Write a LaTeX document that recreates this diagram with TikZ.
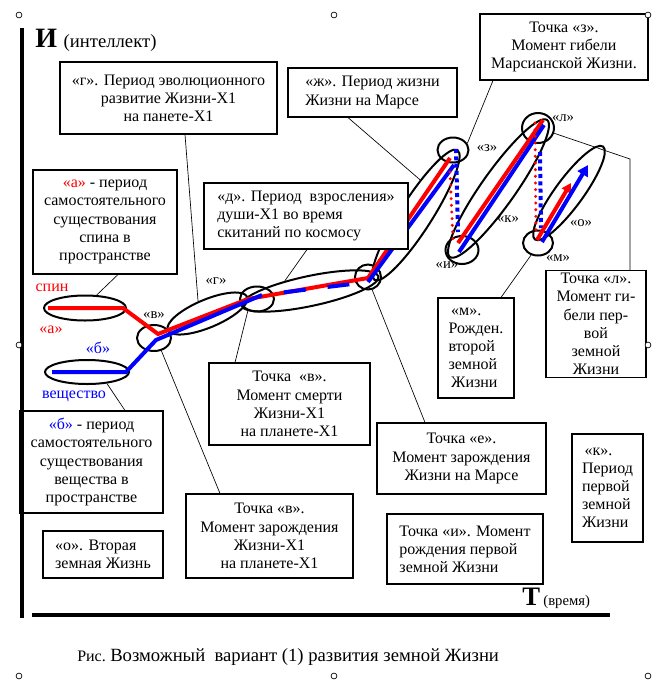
\documentclass[tikz,border=0pt]{standalone}
\usepackage{fontspec}
\setmainfont{Liberation Serif}
\usetikzlibrary{shapes.geometric,calc,arrows.meta}

\begin{document}
\begin{tikzpicture}[x=0.75pt,y=-0.75pt,
  box/.style 2 args={draw,fill=white,line width=0.8pt,inner sep=2pt,align=center,
    minimum width=#1*0.75pt,minimum height=#2*0.75pt,
    font=\fontsize{12}{13.6}\selectfont},
  oval/.style 2 args={draw,ellipse,line width=1.5pt,inner sep=0pt,
    minimum width=#1*1.5pt,minimum height=#2*1.5pt},
  lead/.style={line width=0.5pt},
  tag/.style={font=\fontsize{11}{11}\selectfont,inner sep=1pt},
  word/.style={font=\fontsize{12}{12}\selectfont,inner sep=1pt},
  trail/.style={line width=3pt},
  reddots/.style={red,line width=2.5pt,line cap=round,dash pattern=on 0pt off 5pt},
  bluedots/.style={blue,line width=3pt,dash pattern=on 3pt off 2.5pt},
  handle/.style={line width=0.5pt,fill=white}]
  \useasboundingbox (0,0) rectangle (668,687);

  % ovals round the periods and points (centre in px, radii in px)
  \node[oval={41}{12.5}] (ea) at (85,308) {};
  \node[oval={42}{12}] (eb) at (87,372) {};
  \node[oval={17}{13}] (cv) at (154,338) {};
  \node[oval={43}{14},rotate=22.7] (eg) at (207.5,313.5) {};
  \node[oval={17}{12.5}] (cd) at (257,299) {};
  \node[oval={70}{15},rotate=12] (ed) at (310,291) {};
  \node[oval={13}{12.5}] (ce) at (368,277) {};
  \node[oval={77}{16},rotate=57.4] (ezh) at (416,215) {};
  \node[oval={15.5}{12.5}] (cz) at (453,150) {};
  \node[oval={16.5}{14}] (ci) at (462,250) {};
  \node[oval={84}{17},rotate=54.7] (ek) at (498.5,188.5) {};
  \node[oval={16}{15}] (cl) at (538,128) {};
  \node[oval={15}{12.5}] (cm) at (538,243) {};
  \node[oval={57.6}{14},rotate=53.8] (eo) at (569,193) {};

  % spin (red) and matter (blue)
  \draw[trail,red] (48,308) -- (123,308) -- (158,334) -- (248,299) -- (368,278) -- (450,158);
  \draw[trail,blue] (52,372) -- (126,372) -- (156,340) -- (262,295);
  \draw[trail,blue,dash pattern=on 16.5pt off 16.5pt,dash phase=16.5pt] (262,295) -- (368,282);
  \draw[trail,blue] (368,282) -- (454,165);
  \draw[reddots] (450,172) -- (453,240);
  \draw[bluedots] (456,149) -- (458,232);
  \draw[trail,red] (458,243) -- (543,120);
  \draw[trail,blue] (459,252) -- (544,125);
  \draw[reddots] (535,123) -- (536,233);
  \draw[bluedots] (540,152) -- (541,228);
  \draw[trail,red,-{Triangle[length=7pt,width=7.5pt]}] (537,240) -- (571,183);
  \draw[trail,blue,-{Triangle[length=8pt,width=8.5pt]}] (542,242) -- (588,165);

  % small labels
  \node[word,red] (lspin) at (52,288) {спин};
  \node[word,red] (la) at (51,330) {«а»};
  \node[word,blue] (lb) at (98,348) {«б»};
  \node[word,blue] (lmat) at (74,396) {вещество};
  \node[tag] (lv) at (154,315) {«в»};
  \node[tag] (lg) at (216,281) {«г»};
  \node[tag] (lz) at (487,148) {«з»};
  \node[tag] (li) at (447,265) {«и»};
  \node[tag] (lk) at (508,219) {«к»};
  \node[tag] (ll) at (563,118) {«л»};
  \node[tag] (lm) at (558,258) {«м»};
  \node[tag] (lo) at (581,223) {«о»};

  % text boxes
  \node[box={217}{72}] (bg) at (168.5,98) {«г». Период эволюционного\\развитие Жизни-Х1\\на панете-Х1};
  \node[box={169}{49},align=left] (bzh) at (372.5,92.5) {«ж». Период жизни\\Жизни на Марсе};
  \node[box={168}{66}] (bz) at (564,47) {Точка «з».\\Момент гибели\\Марсианской Жизни.};
  \node[box={144}{104}] (ba) at (105,222) {{\color{red}«а»} - период\\самостоятельного\\существования\\спина в\\пространстве};
  \node[box={204}{66},align=left] (bd) at (306,216) {«д». Период\ \ взросления»\\души-Х1 во время\\скитаний по космосу};
  \node[box={76}{100},align=left] (bm) at (476,348) {\,«м».\\Рожден.\\второй\\земной\\\,Жизни};
  \node[box={100}{92}] (bl) at (596,324) {Точка «л».\\Момент ги-\\бели пер-\\вой\\земной\\Жизни};
  \node[box={161}{82}] (bdeath) at (289.5,404) {Точка\ \ «в».\\Момент смерти\\Жизни-Х1\\на планете-Х1};
  \node[box={143}{102}] (bb) at (91.5,462) {{\color{blue}«б»} - период\\самостоятельного\\существования\\вещества в\\пространстве};
  \node[box={167}{84}] (bbirth) at (269.5,536) {Точка «в».\\Момент зарождения\\Жизни-Х1\\на планете-Х1};
  \node[box={169}{71}] (be) at (461.5,458.5) {Точка «е».\\Момент зарождения\\Жизни на Марсе};
  \node[box={71}{108},align=left] (bk) at (607.5,488) {\,«к».\\Период\\первой\\земной\\Жизни};
  \node[box={156}{70},align=left] (bi) at (465,549) {Точка «и». Момент\\рождения первой\\земной Жизни};
  \node[box={120}{47},align=left] (bo) at (103,554.5) {«о». Вторая\\земная Жизнь};

  % callout lines
  \draw[lead] ($(ba.south)+(13,0)$) -- (ea.48);
  \draw[lead] ($(bb.north)+(33.5,0)$) -- (eb.-30);
  \draw[lead] ($(bg.south)+(16.5,0)$) -- (eg.105);
  \draw[lead] ($(bd.south)+(1,0)$) -- (ed.146);
  \draw[lead] ($(bbirth.north)+(-49.5,0)$) -- (cv.-60);
  \draw[lead] ($(bdeath.north)+(-54.5,0)$) -- (cd.-128);
  \draw[lead] ($(be.north)+(-36.5,0)$) -- (ce.-72);
  \draw[lead] ($(bzh.south)+(-24.5,0)$) -- (ezh.26.5);
  \draw[lead] ($(bz.south)+(-71,0)$) -- (cz.25);
  \draw[lead] ($(bm.north)+(25,0)$) -- (cm.-120);
  \coordinate (knee) at (630,159);
  \draw[lead] (cl.-18) -- (knee) -- ($(bl.north)+(34,0)$);

  % axes
  \draw[line width=2.3pt] (22,28) -- (22,618);
  \draw[line width=2.3pt] (32,615) -- (610,615);
  \node[anchor=base west,inner sep=0pt] (yname) at (35,47)
    {{\fontsize{21}{21}\selectfont\bfseries И}\ \ {\fontsize{14}{14}\selectfont(интеллект)}};
  \node[anchor=base west,inner sep=0pt] (xname) at (522,605)
    {{\fontsize{20}{20}\selectfont\bfseries Т}\ {\fontsize{11}{11}\selectfont(время)}};
  \node[anchor=base west,inner sep=0pt] (caption) at (77,661)
    {{\fontsize{12}{12}\selectfont Рис.} {\fontsize{14}{14}\selectfont Возможный\ \ вариант (1) развития земной Жизни}};

  % selection handles
  \foreach \hx/\hy in {19/15,334/15,648/15,19/345,648/345,19/676,334/676,648/676}
    \draw[handle] (\hx,\hy) circle (2.2pt);
\end{tikzpicture}
\end{document}
